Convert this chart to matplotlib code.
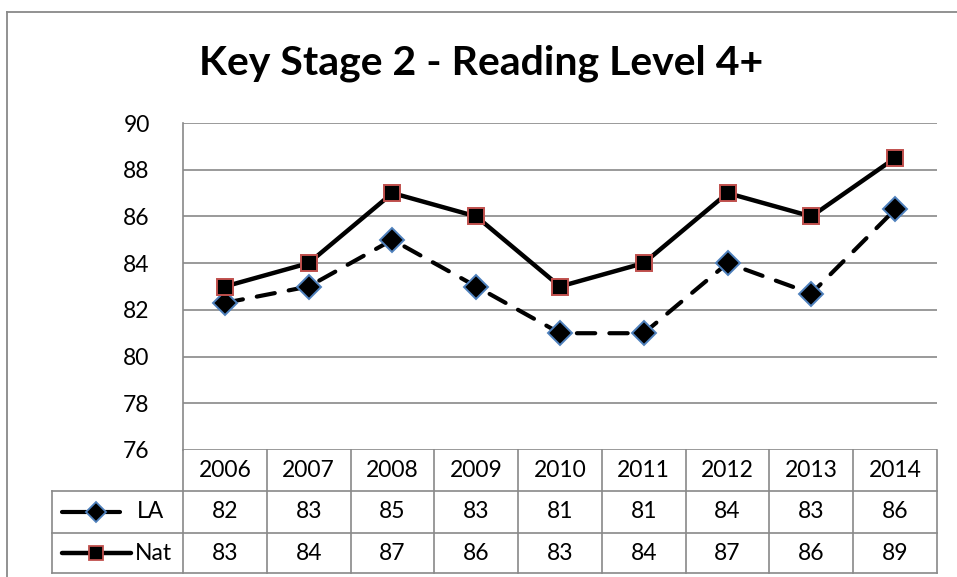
import numpy as np
import matplotlib.pyplot as plt
from matplotlib.lines import Line2D

years = ['2006', '2007', '2008', '2009', '2010', '2011', '2012', '2013', '2014']
la_vals = [82.3, 83.0, 85.0, 83.0, 81.0, 81.0, 84.0, 82.7, 86.3]
nat_vals = [83.0, 84.0, 87.0, 86.0, 83.0, 84.0, 87.0, 86.0, 88.5]
series_names = ['LA', 'Nat']
y_ticks = [76, 78, 80, 82, 84, 86, 88, 90]

plt.rcParams['font.family'] = ['Lato', 'DejaVu Sans']

W, H = 957, 577
fig = plt.figure(figsize=(W / 100, H / 100), dpi=100)

# plot area in pixels
px_l, px_r, px_t, px_b = 183, 937, 123, 450
ax = fig.add_axes([px_l / W, 1 - px_b / H, (px_r - px_l) / W, (px_b - px_t) / H])

grid_c = '#898989'
blue_edge = '#4F81BD'
red_edge = '#C0504D'
fs = 16.5

x = np.arange(len(years))
ax.plot(x, la_vals, color='black', lw=3.0, ls=(0, (4.4, 3.4)), dash_capstyle='round',
        marker='D', ms=12, mfc='black', mec=blue_edge, mew=1.4, zorder=3, clip_on=False)
ax.plot(x, nat_vals, color='black', lw=3.2, ls='-', marker='s', ms=11.5,
        mfc='black', mec=red_edge, mew=1.4, zorder=4, clip_on=False)

ax.set_xlim(-0.5, len(years) - 0.5)
ax.set_ylim(76, 90)
ax.set_yticks(y_ticks)
ax.set_yticklabels([str(v) for v in y_ticks], fontsize=fs)
ax.tick_params(axis='y', length=0, pad=24)
ax.set_xticks([])
for v in y_ticks:
    ax.axhline(v, color=grid_c, lw=1.2, zorder=1)
for side in ['top', 'right', 'bottom']:
    ax.spines[side].set_visible(False)
ax.spines['left'].set_color(grid_c)
ax.spines['left'].set_linewidth(1.2)

# data table below the plot area
ph = px_b - px_t
pw = px_r - px_l
row_edges_px = [450, 491, 533, 573]
rows_y = [-(p - px_b) / ph for p in row_edges_px]
kx = lambda p: (p - px_l) / pw
left_x = kx(52)
ncol = len(years)
tr = ax.transAxes

def tline(xs, ys):
    ax.add_line(Line2D(xs, ys, transform=tr, color=grid_c, lw=1.2, clip_on=False))

for yv in rows_y[1:]:
    tline([left_x, 1], [yv, yv])
tline([left_x, left_x], [rows_y[1], rows_y[3]])
for i in range(ncol + 1):
    tline([i / ncol, i / ncol], [rows_y[0], rows_y[3]])

for i, yr in enumerate(years):
    ax.text((i + 0.5) / ncol, (rows_y[0] + rows_y[1]) / 2, yr, transform=tr,
            ha='center', va='center', fontsize=fs)
for r, vals in enumerate([la_vals, nat_vals]):
    yc = (rows_y[r + 1] + rows_y[r + 2]) / 2
    for i, v in enumerate(vals):
        ax.text((i + 0.5) / ncol, yc, str(int(np.floor(v + 0.5))), transform=tr,
                ha='center', va='center', fontsize=fs)

# legend keys inside the first column
la_key_y = (rows_y[1] + rows_y[2]) / 2
nat_key_y = (rows_y[2] + rows_y[3]) / 2
ax.add_line(Line2D([kx(62), kx(120)], [la_key_y, la_key_y], transform=tr, color='black',
                   lw=3.0, ls=(0, (5.8, 2.6)), dash_capstyle='round', clip_on=False))
ax.add_line(Line2D([kx(96)], [la_key_y], transform=tr, ls='none', marker='D', ms=10,
                   mfc='black', mec=blue_edge, mew=1.3, clip_on=False))
ax.text(kx(137), la_key_y, series_names[0], transform=tr, ha='left', va='center',
        fontsize=fs)
ax.add_line(Line2D([kx(62), kx(131)], [nat_key_y, nat_key_y], transform=tr, color='black',
                   lw=3.2, solid_capstyle='round', clip_on=False))
ax.add_line(Line2D([kx(96)], [nat_key_y], transform=tr, ls='none', marker='s', ms=10,
                   mfc='black', mec=red_edge, mew=1.3, clip_on=False))
ax.text(kx(135), nat_key_y, series_names[1], transform=tr, ha='left', va='center',
        fontsize=fs)

fig.text(481 / W, 1 - 74 / H, 'Key Stage 2 - Reading Level 4+', ha='center', va='baseline',
         fontsize=29.5, fontweight='bold')

# outer chart border (left and top edges visible)
fig.add_artist(Line2D([7 / W, 7 / W], [0, 1 - 12 / H], transform=fig.transFigure,
                      color=grid_c, lw=1.3))
fig.add_artist(Line2D([7 / W, 1], [1 - 12 / H, 1 - 12 / H], transform=fig.transFigure,
                      color=grid_c, lw=1.3))

fig.savefig('out.png', dpi=100)
